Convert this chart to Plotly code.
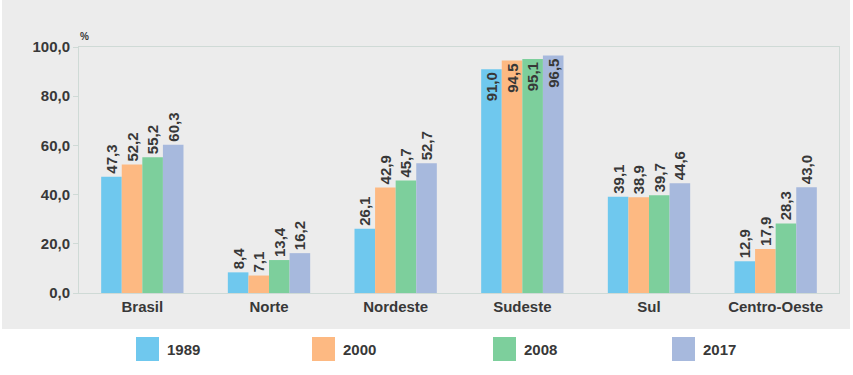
import plotly.graph_objects as go

categories = ["Brasil", "Norte", "Nordeste", "Sudeste", "Sul", "Centro-Oeste"]
years = ["1989", "2000", "2008", "2017"]
v1989 = [47.3, 8.4, 26.1, 91.0, 39.1, 12.9]
v2000 = [52.2, 7.1, 42.9, 94.5, 38.9, 17.9]
v2008 = [55.2, 13.4, 45.7, 95.1, 39.7, 28.3]
v2017 = [60.3, 16.2, 52.7, 96.5, 44.6, 43.0]
tick_vals = [0, 20, 40, 60, 80, 100]

series = [v1989, v2000, v2008, v2017]
colors = ["#6fc8ee", "#fdb982", "#7dcf9c", "#a7b9dd"]
FONT = "Liberation Sans"
TXT = "#383838"
FS = 15


def bfont(size=FS):
    return dict(family=FONT, size=size, color=TXT, weight="bold")


fig = go.Figure()
for name, vals, col in zip(years, series, colors):
    pos = ["inside" if v > 85 else "outside" for v in vals]
    fig.add_trace(go.Bar(
        x=categories, y=vals, name=name,
        marker=dict(color=col, line=dict(width=0)),
        text=[f"{v:.1f}".replace(".", ",") for v in vals],
        textposition=pos, textangle=-90,
        insidetextanchor="end", constraintext="none",
        textfont=bfont(), insidetextfont=bfont(), outsidetextfont=bfont(),
        cliponaxis=False, showlegend=False, hoverinfo="skip",
    ))

# plot area geometry (pixels)
L, R, T, B = 79, 14, 47, 82
W, H = 853 - L - R, 375 - T - B


def px_x(p):
    return (p - L) / W


def px_y(p):
    return (375 - B - p) / H


shapes = [
    dict(type="rect", xref="paper", yref="paper", x0=px_x(2), x1=px_x(850),
         y0=px_y(329), y1=px_y(-5),
         fillcolor="#ececec", line=dict(width=0), layer="below"),
]
annotations = [
    dict(text="%", xref="paper", yref="paper", x=px_x(78), y=px_y(36),
         xanchor="left", yanchor="middle", showarrow=False, font=bfont(10)),
]
legend_x = [136, 312, 493, 672]
for name, col, px in zip(years, colors, legend_x):
    shapes.append(dict(type="rect", xref="paper", yref="paper",
                       x0=px_x(px), x1=px_x(px + 23),
                       y0=px_y(361), y1=px_y(337),
                       fillcolor=col, line=dict(width=0)))
    annotations.append(dict(text=name, xref="paper", yref="paper",
                            x=px_x(px + 29), y=px_y(349),
                            xanchor="left", yanchor="middle", showarrow=False,
                            font=bfont()))

fig.update_layout(
    width=853, height=375,
    margin=dict(l=L, r=R, t=T, b=B),
    paper_bgcolor="white", plot_bgcolor="white",
    barmode="group", bargap=0.35, bargroupgap=0,
    separators=",.",
    shapes=shapes, annotations=annotations,
    font=dict(family=FONT, color=TXT),
    xaxis=dict(showgrid=False, showline=True, mirror=True, linecolor="#cfdad6",
               linewidth=1, ticks="", tickfont=bfont()),
    yaxis=dict(range=[0, 100], tickvals=tick_vals, tickformat=".1f",
               showgrid=False, zeroline=False, showline=True, mirror=True,
               linecolor="#cfdad6", linewidth=1, ticks="outside", ticklen=5,
               tickcolor="#cfdad6", tickfont=bfont()),
)

fig.write_html("out.html", config={"displayModeBar": False},
               post_script="document.body.style.margin='0';document.body.style.overflow='hidden';")
